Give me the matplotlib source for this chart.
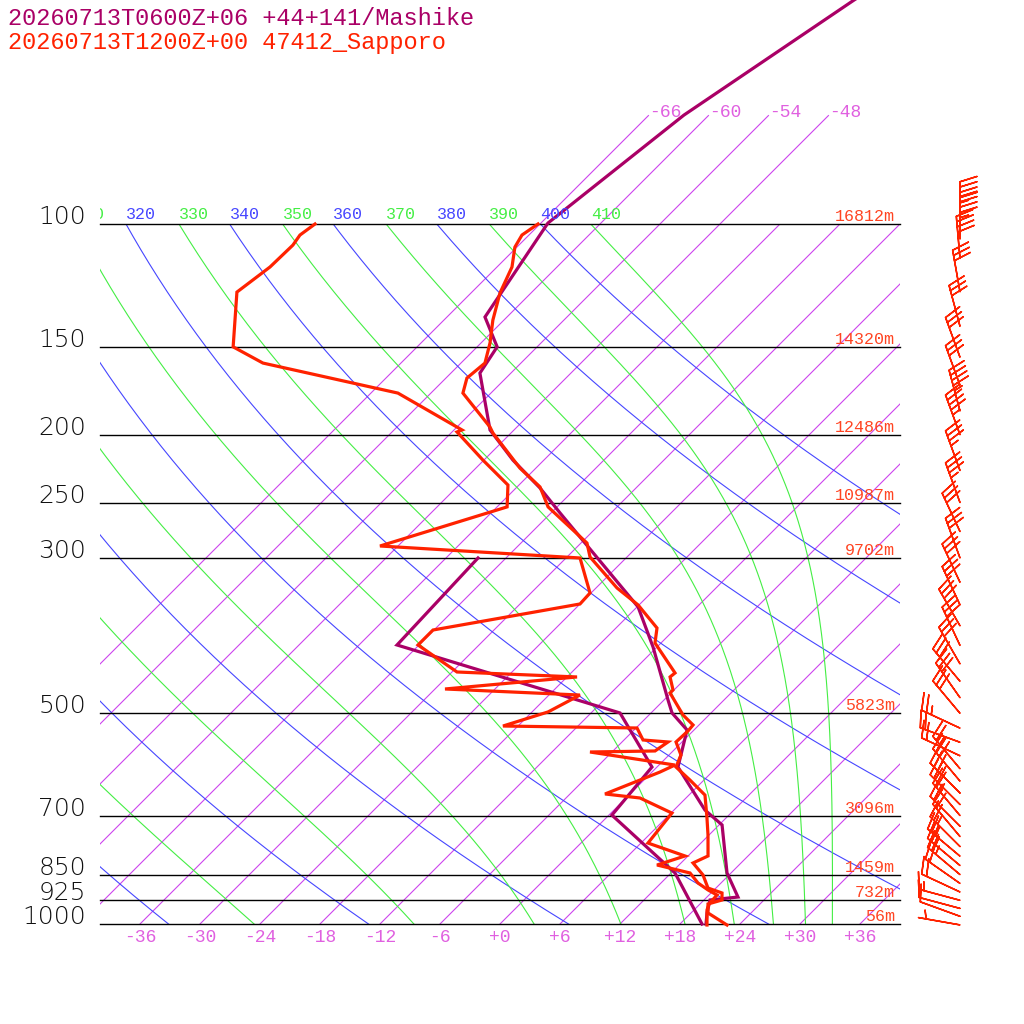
import numpy as np
import matplotlib
matplotlib.use('Agg')
import matplotlib.pyplot as plt
from matplotlib.patches import Rectangle

# ---------------- data ----------------
header_mashike = "20260713T0600Z+06 +44+141/Mashike"
header_sapporo = "20260713T1200Z+00 47412_Sapporo"

# Sapporo observed temperature (hPa, degC)
sap_t_p = [1003.3, 964.4, 936.3, 924.1, 903.0, 888.4, 851.1, 818.1, 799.5, 746.2,
           703.5, 654.3, 622.8, 596.7, 573.6, 549.5, 530.0, 519.6, 502.8, 467.7,
           463.1, 443.7, 437.9, 396.8, 377.7, 350.1, 331.1, 299.0, 285.6, 253.6,
           237.5, 223.2, 198.9, 195.0, 174.4, 166.0, 158.0, 147.9, 137.2, 125.5,
           115.2, 107.9, 103.7, 100.0]
sap_t_t = [22.8, 19.7, 18.8, 19.8, 19.1, 17.2, 15.4, 13.2, 14.0, 11.9,
           10.0, 7.6, 4.6, 1.9, 1.2, -0.6, -0.5, -0.6, -2.6, -6.1,
           -6.1, -7.7, -7.6, -12.6, -13.9, -18.1, -21.9, -27.7, -29.4, -36.9,
           -39.7, -43.6, -49.8, -50.7, -56.8, -57.9, -57.6, -59.1, -61.1, -63.1,
           -64.5, -66.2, -66.7, -66.2]

# Sapporo observed dew point
sap_td_p = [1003.3, 955.0, 936.3, 909.0, 894.1, 873.8, 845.5, 823.6, 799.5, 766.2,
            694.3, 660.7, 652.0, 606.6, 592.8, 567.9, 566.0, 549.5, 545.9, 524.8,
            521.4, 497.8, 470.9, 461.6, 443.7, 436.5, 399.4, 380.2, 349.0, 336.6,
            300.0, 288.4, 253.6, 236.0, 217.4, 198.2, 196.9, 174.4, 158.0, 149.8,
            125.1, 115.2, 107.2, 103.7, 100.0]
sap_td_t = [20.8, 19.3, 18.9, 18.8, 17.4, 15.7, 13.9, 9.8, 11.7, 6.7,
            6.1, 1.4, -2.5, 0.8, 1.6, -8.2, -1.8, -1.4, -4.1, -5.9,
            -19.5, -16.4, -14.9, -29.0, -17.0, -29.5, -36.1, -36.1, -24.0, -24.1,
            -28.6, -49.8, -41.0, -43.1, -48.1, -53.5, -53.2, -63.3, -79.8, -84.4,
            -89.5, -88.7, -88.6, -88.9, -88.5]

# Mashike model forecast temperature
mas_t_p = [1000.0, 964.4, 924.1, 915.1, 845.5, 721.9, 687.4, 596.7, 528.2, 499.5,
           478.6, 402.0, 352.4, 258.7, 238.3, 217.4, 196.9, 163.3, 149.8, 135.8,
           99.7, 69.9, 47.9, 40.0]
mas_t_t = [20.6, 19.6, 18.6, 21.1, 17.6, 12.3, 9.1, 2.1, -0.7, -3.9,
           -5.6, -12.4, -17.9, -35.1, -39.6, -45.1, -50.4, -57.1, -58.0, -62.2,
           -65.3, -62.5, -57.0, -54.0]

# Mashike model forecast dew point
mas_td_p = [1000.0, 845.5, 698.9, 596.7, 499.5, 399.4, 300.0]
mas_td_t = [20.2, 12.4, 0.3, -0.5, -9.1, -38.2, -38.8]

# standard levels and heights (Sapporo)
std_p = [100, 150, 200, 250, 300, 500, 700, 850, 925, 1000]
std_labels = ["100", "150", "200", "250", "300", "500", "700", "850", "925", "1000"]
std_heights = ["16812m", "14320m", "12486m", "10987m", "9702m", "5823m",
               "3096m", "1459m", "732m", "56m"]

# background line values
isotherms = list(range(-66, 37, 6))
isotherm_top = [-66, -60, -54, -48]
iso_bottom_labels = list(range(-36, 37, 6))
dry_thetas = [240, 260, 280, 300, 320, 340, 360, 380, 400]
moist_thetaes = [250, 270, 290, 310, 330, 350, 370, 390, 410]

# Sapporo winds (hPa, direction deg, speed kt)
wind_p = [1003, 975, 950, 925, 900, 875, 850, 825, 800, 775, 750, 725, 700,
          675, 650, 625, 600, 575, 550, 525, 500, 475, 450, 425, 400, 375,
          350, 325, 300, 275, 250, 225, 200, 185, 170, 155, 140, 125, 112,
          105, 100]
wind_dir = [280, 290, 285, 285, 295, 305, 310, 310, 310, 315, 320, 315, 320,
            315, 315, 320, 320, 295, 290, 295, 320, 325, 320, 330, 335, 330,
            335, 335, 340, 335, 340, 340, 340, 345, 340, 340, 345, 350, 355,
            0, 0]
wind_spd = [5, 10, 10, 15, 20, 20, 25, 25, 25, 25, 20, 20, 25,
            30, 30, 30, 25, 20, 20, 25, 30, 30, 30, 30, 30, 30,
            30, 30, 30, 30, 35, 35, 45, 45, 30, 30, 30, 30, 40,
            45, 45]

# ---------------- style ----------------
C_MAS = '#aa0066'
C_SAP = '#ff2200'
C_ISO = '#cc44ee'
C_ISOL = '#e060e0'
C_BLUE = '#4646ff'
C_GREEN = '#44ee44'
C_HGT = '#ff4422'
MONO = ['Liberation Mono', 'DejaVu Sans Mono']


def skew(t, p):
    return np.asarray(t, float) + 70.0 * np.log10(1000.0 / np.asarray(p, float))


def theta_e_sat(TK, p):
    Tc = TK - 273.15
    es = 6.112 * np.exp(17.67 * Tc / (Tc + 243.5))
    r = 622.0 * es / (p - es)
    theta = TK * (1000.0 / p) ** (0.2854 * (1 - 0.28e-3 * r))
    return theta * np.exp((3.376 / TK - 0.00254) * r * (1 + 0.81e-3 * r))


def moist_T(thetae, p):
    p = np.asarray(p, float)
    lo = np.full_like(p, 150.0)
    hi = 240.0 + 90.0 * (p / 1000.0) ** 0.5
    for _ in range(60):
        mid = 0.5 * (lo + hi)
        f = theta_e_sat(mid, p) > thetae
        hi = np.where(f, mid, hi)
        lo = np.where(f, lo, mid)
    return 0.5 * (lo + hi) - 273.15


fig = plt.figure(figsize=(10.24, 10.24), dpi=100)
ax = fig.add_axes([0, 0, 1, 1])
ax.set_yscale('log')
ax.set_xlim(-50, 52.4)
ax.set_ylim(1000 * 10 ** (100 / 700), 1000 * 10 ** (-924 / 700))
ax.axis('off')

box = Rectangle((-40, 100), 80, 900, transform=ax.transData, facecolor='none', edgecolor='none')
ax.add_patch(box)
lblbox = Rectangle((-40, 60), 100, 940, transform=ax.transData, facecolor='none', edgecolor='none')
ax.add_patch(lblbox)

pg = np.geomspace(1000, 100, 300)

# isotherms
for t in isotherms:
    ln, = ax.plot(skew(np.full_like(pg, t), pg), pg, color=C_ISO, lw=0.8)
    ln.set_clip_path(box)
pt = np.array([100.0, 70.0])
for t in isotherm_top:
    ax.plot(skew([t, t], pt), pt, color=C_ISO, lw=0.8)
    ax.text(skew(t, 70.0) + 0.1, 70.4, f"{t:d}", color=C_ISOL, fontsize=13,
            family=MONO, ha='left', va='baseline')


def label_100(xpos, text, color):
    # labels sit on the 100 hPa line; those left of the frame are clipped
    if xpos < -44.5:
        return
    tx = ax.text(xpos, 98.4, text, color=color, fontsize=12, family=MONO,
                 ha='left', va='baseline', clip_on=True)
    tx.set_clip_path(lblbox)


# dry adiabats
for th in dry_thetas:
    tt = th * (pg / 1000.0) ** 0.2857 - 273.15
    ln, = ax.plot(skew(tt, pg), pg, color=C_BLUE, lw=0.8)
    ln.set_clip_path(box)
    label_100(float(skew(th * 0.1 ** 0.2857 - 273.15, 100)), str(th), C_BLUE)

# pseudo-adiabats
for te in moist_thetaes:
    tt = moist_T(te, pg)
    ln, = ax.plot(skew(tt, pg), pg, color=C_GREEN, lw=0.8)
    ln.set_clip_path(box)
    label_100(float(skew(moist_T(te, np.array([100.0]))[0], 100)), str(te), C_GREEN)

# standard pressure lines and labels
for p, lab, hgt in zip(std_p, std_labels, std_heights):
    ax.plot([-40, 40], [p, p], color='black', lw=1.0)
    ax.text(-41.4, p, lab, color='#111111', fontsize=18, family=['DejaVu Sans'],
            weight='light', ha='right', va='baseline')
    ax.text(39.5, p * 10 ** (-3 / 700), hgt, color=C_HGT, fontsize=12, family=MONO,
            ha='right', va='baseline')

# bottom isotherm labels
for t in iso_bottom_labels:
    ax.text(t, 1000 * 10 ** (18 / 700), f"{t:+d}", color=C_ISOL,
            fontsize=13, family=MONO, ha='center', va='baseline')

# profiles
ax.plot(skew(mas_td_t, mas_td_p), mas_td_p, color=C_MAS, lw=2.3, solid_joinstyle='miter')
ax.plot(skew(mas_t_t, mas_t_p), mas_t_p, color=C_MAS, lw=2.3, solid_joinstyle='miter')
ax.plot(skew(sap_td_t, sap_td_p), sap_td_p, color=C_SAP, lw=2.3, solid_joinstyle='miter')
ax.plot(skew(sap_t_t, sap_t_p), sap_t_p, color=C_SAP, lw=2.3, solid_joinstyle='miter')

# wind barbs
wd = np.radians(np.array(wind_dir, float))
ws = np.array(wind_spd, float)
u = -ws * np.sin(wd)
v = -ws * np.cos(wd)
ax.barbs(np.full(len(wind_p), 46.0), wind_p, u, v, length=7.8, color=C_SAP,
         linewidth=1.1)

# header
fig.text(8 / 1024, 1 - 25 / 1024, header_mashike, color=C_MAS, fontsize=17,
         family=MONO, ha='left', va='baseline')
fig.text(8 / 1024, 1 - 49 / 1024, header_sapporo, color=C_SAP, fontsize=17,
         family=MONO, ha='left', va='baseline')

fig.savefig('out.png', dpi=100)
